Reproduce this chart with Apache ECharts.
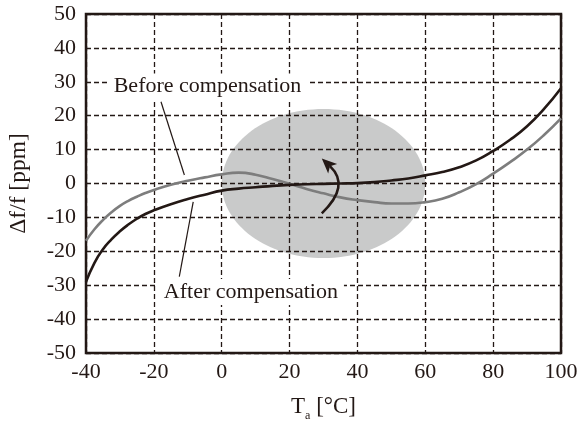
<!DOCTYPE html>
<html><head><meta charset="utf-8">
<script src="https://cdn.jsdelivr.net/npm/echarts@6/dist/echarts.min.js"></script>
<style>html,body{margin:0;padding:0;background:#fff}#c{width:580px;height:421px}</style>
</head><body><div id="c"></div>
<script>
// ---- data ----
const temps      = [-40, -37.5, -35, -32.5, -30, -27.5, -25, -22.5, -20, -15, -10, -5, 0, 5, 10, 15, 20, 25, 30, 35, 40, 45, 50, 55, 60, 65, 70, 75, 80, 85, 90, 95, 100];
const beforeComp = [-16.9, -13.5, -10.8, -8.5, -6.6, -5.1, -3.9, -2.8, -1.9, -0.4, 0.8, 1.8, 2.7, 3.2, 2.6, 1.3, -0.1, -1.6, -2.9, -4.1, -4.9, -5.5, -5.9, -5.9, -5.5, -4.5, -2.6, -0.2, 2.9, 6.3, 10.0, 14.3, 19.2];
const afterComp  = [-29.0, -23.4, -19.4, -16.5, -14.1, -12.1, -10.4, -9.0, -7.9, -6.1, -4.6, -3.3, -2.1, -1.5, -1.1, -0.7, -0.4, -0.2, -0.1, 0.0, 0.1, 0.4, 0.9, 1.5, 2.4, 3.4, 4.8, 6.8, 9.6, 12.9, 16.9, 22.0, 28.1];
const xTickValues = [-40, -20, 0, 20, 40, 60, 80, 100];
const yTickValues = [-50, -40, -30, -20, -10, 0, 10, 20, 30, 40, 50];
const seriesNames = ['Before compensation', 'After compensation'];
// highlighted region (ellipse): center and half-extents in data units
const regionCenter = [30, 0];
const regionHalf   = [30, 22];
// curved arrow: tail, control, tip (data units)
const arrowPts = [[29.5, -8.8], [38, -0.7], [29.5, 7.4]];
// annotation label anchors and leader lines (data units)
const labelAt    = [[-4.2, 28.6], [8.6, -32.0]];
const leaderFrom = [[-17.9, 24.1], [-8.4, -5.4]];
const leaderTo   = [[-11.0, 2.5], [-12.5, -27.5]];

const INK = '#231815';
const FONT = "'Liberation Serif','Times New Roman',serif";

const chart = echarts.init(document.getElementById('c'), null, {renderer: 'canvas'});
const option = {
  backgroundColor: '#ffffff',
  animation: false,
  grid: {left: 86, right: 19, top: 14, bottom: 68, outerBoundsMode: 'none', containLabel: false,
         show: true, borderColor: INK, borderWidth: 2.5, backgroundColor: 'transparent'},
  xAxis: {
    type: 'value', min: xTickValues[0], max: xTickValues[xTickValues.length - 1], interval: xTickValues[1] - xTickValues[0],
    axisLine: {show: false}, axisTick: {show: false},
    axisLabel: {color: INK, fontFamily: FONT, fontSize: 22, margin: 8},
    splitLine: {show: true, lineStyle: {color: INK, width: 1.3, type: [5, 3]}},
    name: '{t|T}{s|a}{t| [°C]}', nameLocation: 'middle', nameGap: 39,
    nameTextStyle: {rich: {
      t: {fontFamily: FONT, fontSize: 23, color: INK, lineHeight: 30, verticalAlign: 'middle'},
      s: {fontFamily: FONT, fontSize: 12, color: INK, verticalAlign: 'bottom', lineHeight: 30}
    }}
  },
  yAxis: {
    type: 'value', min: yTickValues[0], max: yTickValues[yTickValues.length - 1], interval: yTickValues[1] - yTickValues[0],
    axisLine: {show: false}, axisTick: {show: false},
    axisLabel: {color: INK, fontFamily: FONT, fontSize: 22, margin: 10},
    splitLine: {show: true, lineStyle: {color: INK, width: 1.3, type: [5, 3]}},
    name: 'Δf/f [ppm]', nameLocation: 'middle', nameGap: 55, nameRotate: 90,
    nameTextStyle: {fontFamily: FONT, fontSize: 23.5, color: INK}
  },
  series: [
    {
      type: 'custom', z: -1, silent: true, data: [regionCenter],
      renderItem: function (params, api) {
        const c = api.coord(regionCenter);
        const s = api.size(regionHalf);
        return {type: 'ellipse', shape: {cx: c[0], cy: c[1], rx: s[0], ry: s[1]}, style: {fill: '#c9caca'}};
      }
    },
    {
      name: seriesNames[0], type: 'line', smooth: 0.5, showSymbol: false, z: 3,
      data: temps.map((t, i) => [t, beforeComp[i]]),
      lineStyle: {color: '#7d7d7d', width: 2.6}
    },
    {
      name: seriesNames[1], type: 'line', smooth: 0.5, showSymbol: false, z: 4,
      data: temps.map((t, i) => [t, afterComp[i]]),
      lineStyle: {color: INK, width: 2.6}
    },
    {
      type: 'custom', z: 5, silent: true, data: [arrowPts[2]],
      renderItem: function (params, api) {
        const p0 = api.coord(arrowPts[0]), pc = api.coord(arrowPts[1]), p1 = api.coord(arrowPts[2]);
        const dx = p1[0] - pc[0], dy = p1[1] - pc[1];
        const len = Math.hypot(dx, dy), ux = dx / len, uy = dy / len;
        const hl = 15, hw = 6.5;
        const base = [p1[0] - ux * hl, p1[1] - uy * hl];
        const notch = [p1[0] - ux * hl * 0.75, p1[1] - uy * hl * 0.75];
        return {type: 'group', children: [
          {type: 'bezierCurve', shape: {x1: p0[0], y1: p0[1], x2: notch[0], y2: notch[1], cpx1: pc[0], cpy1: pc[1]},
           style: {stroke: INK, lineWidth: 2.6, fill: null}},
          {type: 'polygon', shape: {points: [p1, [base[0] - uy * hw, base[1] + ux * hw], notch, [base[0] + uy * hw, base[1] - ux * hw]]},
           style: {fill: INK}}
        ]};
      }
    },
    {
      type: 'custom', z: 6, silent: true, data: labelAt,
      renderItem: function (params, api) {
        const i = params.dataIndex;
        const a = api.coord(leaderFrom[i]), b = api.coord(leaderTo[i]), c = api.coord(labelAt[i]);
        return {type: 'group', children: [
          {type: 'line', shape: {x1: a[0], y1: a[1], x2: b[0], y2: b[1]}, style: {stroke: INK, lineWidth: 1.2}},
          {type: 'text', x: c[0], y: c[1], style: {text: seriesNames[i], font: '22px ' + FONT, fill: INK,
            align: 'center', verticalAlign: 'middle', backgroundColor: '#ffffff', padding: [2, 6]}}
        ]};
      }
    }
  ]
};
chart.setOption(option);
</script>
</body></html>
